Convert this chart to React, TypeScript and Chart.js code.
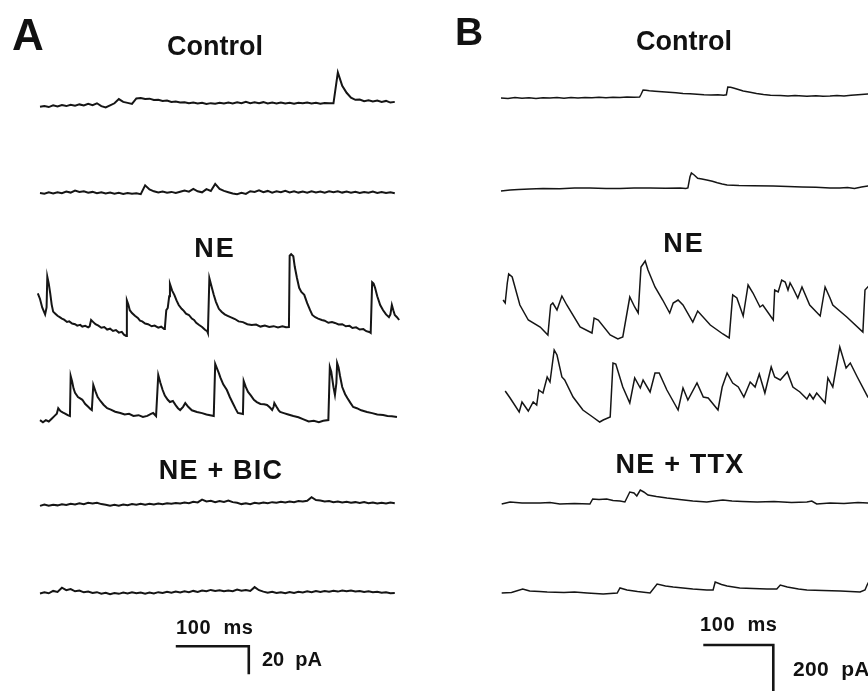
import { useEffect, useRef } from "react";
import { Chart, registerables } from "chart.js";

Chart.register(...registerables);

// ---------------- DATA ----------------
// Panel A: time in ms, current in pA (deflection from each trace's baseline)
const A_DT = 6; // sampling step (ms) of the uniformly sampled quiet traces

const A_CONTROL_1 = [
  -2, -1.5, -2.2, -1, -1.8, -0.8, -1.5, -0.5, -1.2, -0.3, -1, 0.2, -0.8, 0.5, -1.5, -2.5,
  -1, 0.5, 3.5, 1.5, 0.8, 0, 4, 4.3, 3.5, 3.8, 2.8, 3, 2.2, 2.5, 1.5, 1.8,
  1, 1.3, 0.5, 1, 0.3, 0.8, 0, 0.6, 0.2, 0.9, 0.3, 1, 0.4, 1.2, 0.5, 1.5,
  0.6, 1.2, 0.5, 1.3, 0.4, 1, 0.3, 1.1, 0.4, 0.8, 0.2, 0.9, 0.5, 1, 0.4, 0.8,
  0.2, 0.7, 0.5, 0.5, 22.5, 13, 8, 4.5, 3, 3.2, 2, 2.6, 1.8, 2.4, 1.5, 2.2,
  1, 1.5,
];

const A_CONTROL_2 = [
  0, -0.5, 0.5, -0.3, 0.6, -0.2, 1, 0.3, 1.8, 0.8, 1.2, 0.2, 0.8, -0.2, 0.5, -0.3,
  0.3, -0.5, 0.2, -0.6, 0, -0.5, -0.2, -0.8, 5.5, 2.5, 1.2, 0.4, 1, 0.2, 0.8, 0,
  0.9, 1.8, 1, 3, 1.2, 0.5, 2.8, 1.5, 6.5, 3, 1.5, 0.6, -0.3, -0.8, 0.2, -0.6,
  1.3, 0.8, 2, 0.6, 1.5, 0.3, 1.2, 0.5, 1.5, 0.4, 1.2, 0.3, 1, 0.2, 1.3, 0.4,
  1.1, 0.2, 1.2, 0.5, 1.3, 0.3, 1, 0.2, 0.9, 0.1, 0.8, 0.2, 1, 0.1, 0.7, 0,
  0.5, -0.2,
];

const A_NE_1: [number, number][] = [
  [-3, 24], [0, 20], [3, 14], [7, 9], [9, 14], [10, 36], [12, 31], [14, 24], [16, 16], [18, 11],
  [21, 9.5], [24, 8], [27, 7], [30, 6], [33, 5.2], [37, 3.6], [40, 4], [44, 2.5], [48, 2], [51, 1],
  [55, 1.5], [58, 0.3], [62, 0.8], [66, -0.2], [68, 0.5], [70, 5], [73, 3.5], [76, 2], [80, 1], [84, -0.5],
  [88, 0], [92, -1.8], [96, -1.2], [100, -2.8], [104, -2.2], [108, -4], [112, -3.5], [115, -5.5], [118, -6.4], [119, 19],
  [121, 16], [123, 12], [126, 10], [130, 8], [134, 6.5], [137, 4.5], [140, 4], [144, 2.5], [148, 2], [153, 0.5],
  [157, 1], [162, -0.5], [166, 0.2], [170, -1.4], [171, -1], [173, 12], [175, 13.6], [177, 22], [178, 30.7], [181, 26],
  [184, 23], [187, 19], [190, 15.7], [194, 13], [197, 11.5], [200, 9.5], [204, 8.6], [208, 6], [211, 5], [214, 3],
  [218, 1.4], [222, 0], [226, -2], [229, -3], [230, -4.3], [232, 35], [235, 29], [238, 23], [241, 18], [245, 13],
  [249, 10.7], [253, 9], [257, 8], [261, 7], [267, 5.7], [272, 4], [278, 3.5], [284, 2], [290, 1.4], [296, 1.8],
  [302, 0.3], [308, 1], [314, 0], [320, 0.6], [326, -0.3], [332, 0.5], [337, -0.2], [341, 0], [342, 51], [344, 52],
  [347, 50.5], [349, 43], [352, 35], [355, 28], [358, 25], [362, 23], [366, 17], [370, 12], [373, 8.6], [377, 7],
  [381, 6], [386, 5], [390, 4.5], [395, 3], [400, 3.5], [404, 2.9], [409, 1.8], [414, 2], [419, 0.5], [424, 0.8],
  [428, -0.7], [433, -0.2], [438, -1.8], [443, -1.5], [447, -3], [451, -3.6], [453, -4.3], [455, 32], [457, 31], [459, 28],
  [462, 22], [466, 15.7], [470, 12], [474, 9], [478, 7], [480, 9], [482, 15.7], [484, 12], [486, 8.6], [489, 7],
  [492, 5],
];

const A_NE_2: [number, number][] = [
  [0, -1.5], [4, -3], [8, -1.5], [12, -2.5], [16, -0.5], [20, 1.5], [23, 3], [25, 7], [28, 5], [31, 4],
  [35, 3], [38, 2], [41, 1.4], [42, 30], [44, 26], [46, 21], [48, 18], [52, 15], [55, 14], [58, 13],
  [62, 10], [66, 8], [69, 6.5], [71, 5.7], [73, 23.6], [76, 19], [79, 15], [83, 12], [87, 9.5], [92, 7],
  [97, 6], [103, 4.5], [110, 3.6], [116, 2.5], [122, 3], [128, 1.5], [135, 2], [141, 0.7], [147, 1.5], [152, 3],
  [155, 3.6], [159, 1.4], [162, 30.7], [165, 25], [168, 20], [171, 16], [175, 13], [178, 11.4], [182, 12.1], [186, 9],
  [189, 7], [192, 5.7], [196, 8], [199, 10.7], [203, 8], [208, 5.5], [215, 4.3], [222, 3.5], [228, 2.5], [233, 2],
  [238, 1.4], [240, 38.6], [242, 36], [245, 32], [247, 29], [251, 24], [256, 20], [260, 15], [264, 10.7], [268, 6.5],
  [271, 3.6], [275, 3.2], [278, 2.9], [279, 26.4], [282, 22], [285, 18.6], [289, 16], [293, 13], [297, 11.4], [302, 10],
  [307, 9.8], [311, 9.3], [315, 7.5], [318, 5.7], [320, 8], [321, 10.7], [324, 8], [327, 5.5], [329, 4.3], [334, 3.5],
  [340, 2.5], [347, 1.4], [354, 0.5], [361, -1], [368, -2.5], [375, -2], [382, -3], [388, -2], [395, -1.5], [397, 36.4],
  [399, 33], [402, 22], [404, 16.4], [406, 25], [407, 39.3], [409, 36], [411, 30], [414, 22.1], [418, 17], [421, 14.3],
  [425, 11], [429, 7.9], [434, 7], [440, 5.5], [448, 4.3], [455, 3.5], [462, 2.5], [470, 2.1], [476, 1.5], [482, 1.2],
  [489, 0.7],
];

const A_BIC_1 = [
  -0.7, 0.3, -0.5, 0.2, -0.3, 0.5, 0, 0.8, 0.3, 1.2, 0.5, 1.5, 1, 1.6, 0.6, 0.2,
  -0.5, 0.1, -0.6, 0.3, -0.2, 0.6, 0.1, 0.8, 0.2, 0.9, 0.4, 1, 0.5, 1.2, 0.8, 1.4,
  1, 1.8, 1.3, 2.2, 1.8, 3.8, 2.5, 3, 2, 2.8, 2.2, 3.2, 2, 1.5, 0.6, 1.2,
  0.5, 1.5, 1, 1.8, 1.3, 2, 1.6, 2.2, 1.7, 2.5, 2, 2.8, 2.4, 3, 5.5, 3.5,
  3.2, 2.5, 2.8, 2, 2.5, 1.8, 2.2, 1.5, 2, 1.4, 2, 1.2, 1.8, 1, 1.6, 1.1,
  1.7, 1.2,
];

const A_BIC_2 = [
  -0.3, 0.5, -0.2, 1.5, 0.8, 3.8, 2, 2.8, 1.2, 1.8, 0.5, 1, 0, 0.6, -0.5, 0.2,
  -0.8, 0, -0.6, 0.3, -0.4, 0.5, -0.2, 0.4, -0.5, 0.3, -0.3, 0.6, 0, 0.8, 0.2, 1,
  0.4, 1.2, 0.6, 1.5, 0.8, 1.8, 1.2, 2.2, 1.5, 2, 1.2, 1.8, 1.3, 2.4, 1.6, 2.2,
  1.5, 4.2, 2, 1, 0.2, 0.8, 0, 0.6, -0.2, 0.7, 0.1, 0.9, 0.4, 1.2, 0.6, 1.4,
  0.8, 1.5, 0.9, 1.6, 1, 1.8, 1.2, 1.7, 1, 1.5, 0.8, 1.2, 0.5, 0.9, 0.2, 0.6,
  -0.1, 0,
];

// Panel B: time in ms, current in pA
const B_CONTROL_1: [number, number][] = [
  [0, 0], [10, -2], [20, 2], [30, -1], [40, 1], [50, -2], [60, 1], [70, 0], [80, 2], [90, -1],
  [100, 2], [110, 0], [120, 2], [130, 1], [140, 3], [150, 1], [160, 3], [170, 2], [180, 4], [190, 3],
  [198, 4], [200, 14], [203, 32], [207, 31], [212, 29], [220, 27], [230, 25], [240, 23], [250, 21], [260, 18],
  [270, 17], [280, 15], [290, 13], [300, 12], [310, 13], [318, 11], [322, 13], [324, 44], [328, 43], [332, 40],
  [338, 35], [346, 28], [356, 23], [365, 18], [375, 14], [385, 11], [399, 10], [410, 8], [420, 10], [437, 7],
  [450, 9], [460, 7], [470, 8], [480, 10], [490, 8], [500, 11], [510, 13], [524, 16], [540, 14],
];

const B_CONTROL_2: [number, number][] = [
  [0, -12], [13, -8], [25, -6], [41, -4], [60, -2], [84, -3], [105, 0], [127, 0], [150, -2], [170, -2],
  [190, 0], [213, 0], [235, -1], [256, 0], [264, -2], [267, 0], [270, 45], [272, 60], [276, 52], [281, 39],
  [287, 36], [294, 32], [302, 27], [309, 21], [316, 16], [323, 12], [340, 10], [360, 9], [389, 8], [410, 6],
  [430, 4], [450, 3], [470, 0], [484, 0], [495, 2], [505, -2], [515, 4], [524, 8], [540, 6],
];

const B_NE_1: [number, number][] = [
  [3, 120], [6, 108], [9, 188], [11, 224], [16, 212], [27, 100], [39, 40], [56, 12], [67, -20], [71, 100],
  [74, 108], [80, 80], [87, 136], [94, 100], [113, 12], [130, -12], [133, 48], [139, 40], [156, -20], [167, -36],
  [174, -28], [184, 132], [191, 92], [196, 68], [200, 252], [206, 276], [210, 240], [220, 172], [231, 120], [241, 68],
  [246, 108], [253, 120], [260, 100], [274, 32], [281, 76], [299, 20], [317, -16], [326, -32], [331, 140], [337, 128],
  [346, 56], [353, 180], [360, 148], [370, 92], [374, 100], [389, 40], [391, 160], [396, 152], [401, 200], [406, 192],
  [410, 160], [413, 188], [417, 168], [424, 128], [430, 172], [441, 100], [456, 56], [463, 172], [470, 128], [474, 100],
  [494, 52], [517, -8], [520, 160], [524, 172], [527, 180],
];

const B_NE_2: [number, number][] = [
  [6, 76], [13, 48], [26, -8], [30, 32], [39, -4], [46, 32], [51, 20], [54, 80], [60, 68], [66, 132],
  [70, 112], [76, 240], [80, 220], [87, 132], [91, 120], [103, 52], [117, 0], [131, -28], [141, -48], [146, -40],
  [156, -28], [160, 188], [164, 184], [174, 92], [184, 28], [191, 128], [199, 88], [203, 120], [213, 72], [220, 148],
  [226, 148], [237, 80], [253, 0], [260, 88], [267, 40], [280, 108], [289, 52], [296, 48], [310, 0], [316, 92],
  [323, 148], [331, 108], [339, 92], [347, 52], [356, 112], [363, 92], [369, 144], [377, 68], [386, 172], [391, 132],
  [399, 120], [409, 152], [417, 92], [427, 72], [437, 44], [441, 64], [446, 44], [451, 68], [463, 28], [467, 128],
  [474, 92], [484, 252], [493, 168], [499, 188], [509, 132], [524, 52], [530, 40],
];

const B_TTX_1: [number, number][] = [
  [1, -4], [13, 4], [30, 0], [56, 0], [70, 2], [84, -4], [105, -2], [127, -4], [131, 16], [140, 14],
  [151, 16], [160, 10], [170, 8], [177, 4], [184, 44], [190, 40], [194, 28], [199, 52], [204, 44], [210, 32],
  [222, 26], [237, 20], [255, 14], [274, 8], [294, 4], [305, 8], [317, 12], [330, 8], [345, 6], [366, 4],
  [390, 6], [415, 2], [437, 4], [444, 8], [451, -4], [470, 0], [490, -2], [510, 2], [524, 0], [540, 2],
];

const B_TTX_2: [number, number][] = [
  [1, -4], [15, -2], [31, 12], [36, 8], [41, 4], [55, 2], [66, 0], [90, -2], [105, 0], [123, -4],
  [146, -8], [166, -4], [170, 16], [180, 8], [195, 2], [213, -4], [223, 32], [235, 24], [246, 20], [260, 16],
  [274, 12], [294, 8], [303, 8], [306, 40], [315, 30], [323, 24], [341, 16], [360, 14], [380, 12], [394, 12],
  [399, 28], [409, 20], [425, 12], [437, 8], [460, 6], [485, 4], [513, 0], [520, 8], [523, 28], [527, 48],
];

// scale bars
const A_BAR = { ms: 100, pA: 20 };
const B_BAR = { ms: 100, pA: 200 };

// ---------------- LAYOUT (not data) ----------------
const W = 868;
const H = 691;
// Panel A: 0.73 px per ms, 1.4 px per pA ; Panel B: 0.70 px per ms, 0.25 px per pA
const A_X = { min: -54.8, max: -54.8 + W / 0.73 };
const A_Y = { min: 0, max: H / 1.4 };
const B_X = { min: -715.7, max: -715.7 + W / 0.7 };
const B_Y = { min: 0, max: H / 0.25 };
const A_ROW = [419.3, 355.7, 260, 195, 132.9, 70];
const B_ROW = [2372, 2012, 1444, 1124, 752, 396];
const A_BAR_POS = { t: 186, y: 32 };
const B_BAR_POS = { t: 289, y: 184 };

const FONT = "'Liberation Sans', Arial, Helvetica, sans-serif";
const LABELS = [
  { text: "A", x: 12, y: 50, size: 44, align: "left", ls: 0 },
  { text: "B", x: 455, y: 45, size: 39, align: "left", ls: 0 },
  { text: "Control", x: 215, y: 55, size: 27, align: "center", ls: 0 },
  { text: "Control", x: 684, y: 50, size: 27, align: "center", ls: 0 },
  { text: "NE", x: 215, y: 257, size: 27, align: "center", ls: 2 },
  { text: "NE", x: 684, y: 252, size: 27, align: "center", ls: 2 },
  { text: "NE + BIC", x: 221, y: 479, size: 27, align: "center", ls: 1.2 },
  { text: "NE + TTX", x: 680, y: 473, size: 27, align: "center", ls: 1.2 },
  { text: "100  ms", x: 176, y: 634, size: 20, align: "left", ls: 0.6 },
  { text: "20  pA", x: 262, y: 666, size: 20, align: "left", ls: 0 },
  { text: "100  ms", x: 700, y: 631, size: 20, align: "left", ls: 0.6 },
  { text: "200  pA", x: 793, y: 676, size: 21, align: "left", ls: 0.3 },
];

export default function App() {
  const ref = useRef<HTMLCanvasElement | null>(null);

  useEffect(() => {
    document.body.style.margin = "0";
    const canvas = ref.current;
    if (!canvas) return;

    const uni = (arr: number[], off: number) => arr.map((v, i) => ({ x: i * A_DT, y: v + off }));
    const pairs = (arr: [number, number][], off: number) => arr.map(([t, v]) => ({ x: t, y: v + off }));

    const traceA = (data: { x: number; y: number }[]) => ({
      data,
      xAxisID: "xA",
      yAxisID: "yA",
      borderColor: "#151515",
      borderWidth: 2,
      pointRadius: 0,
      tension: 0,
      fill: false,
    });
    const traceB = (data: { x: number; y: number }[]) => ({
      data,
      xAxisID: "xB",
      yAxisID: "yB",
      borderColor: "#151515",
      borderWidth: 1.5,
      pointRadius: 0,
      tension: 0,
      fill: false,
    });

    const barA = [
      { x: A_BAR_POS.t, y: A_BAR_POS.y },
      { x: A_BAR_POS.t + A_BAR.ms, y: A_BAR_POS.y },
      { x: A_BAR_POS.t + A_BAR.ms, y: A_BAR_POS.y - A_BAR.pA },
    ];
    const barB = [
      { x: B_BAR_POS.t, y: B_BAR_POS.y },
      { x: B_BAR_POS.t + B_BAR.ms, y: B_BAR_POS.y },
      { x: B_BAR_POS.t + B_BAR.ms, y: B_BAR_POS.y - B_BAR.pA },
    ];

    const datasets: any[] = [
      traceA(uni(A_CONTROL_1, A_ROW[0])),
      traceA(uni(A_CONTROL_2, A_ROW[1])),
      traceA(pairs(A_NE_1, A_ROW[2])),
      traceA(pairs(A_NE_2, A_ROW[3])),
      traceA(uni(A_BIC_1, A_ROW[4])),
      traceA(uni(A_BIC_2, A_ROW[5])),
      traceB(pairs(B_CONTROL_1, B_ROW[0])),
      traceB(pairs(B_CONTROL_2, B_ROW[1])),
      traceB(pairs(B_NE_1, B_ROW[2])),
      traceB(pairs(B_NE_2, B_ROW[3])),
      traceB(pairs(B_TTX_1, B_ROW[4])),
      traceB(pairs(B_TTX_2, B_ROW[5])),
      { ...traceA(barA), borderWidth: 2.6, borderJoinStyle: "miter" },
      { ...traceB(barB), borderWidth: 2.6, borderJoinStyle: "miter" },
    ];

    const textPlugin = {
      id: "figText",
      afterDraw(chart: any) {
        const ctx = chart.ctx as CanvasRenderingContext2D;
        ctx.save();
        ctx.fillStyle = "#111";
        ctx.textBaseline = "alphabetic";
        for (const l of LABELS) {
          ctx.font = `bold ${l.size}px ${FONT}`;
          (ctx as any).letterSpacing = `${l.ls}px`;
          ctx.textAlign = l.align as CanvasTextAlign;
          ctx.fillText(l.text, l.x, l.y);
        }
        ctx.restore();
      },
    };

    const chart = new Chart(canvas, {
      type: "line",
      data: { datasets },
      options: {
        animation: false,
        responsive: false,
        maintainAspectRatio: false,
        devicePixelRatio: 1,
        layout: { padding: 0 },
        events: [],
        plugins: { legend: { display: false }, tooltip: { enabled: false } },
        scales: {
          xA: { type: "linear", display: false, min: A_X.min, max: A_X.max },
          yA: { type: "linear", display: false, min: A_Y.min, max: A_Y.max },
          xB: { type: "linear", display: false, min: B_X.min, max: B_X.max },
          yB: { type: "linear", display: false, min: B_Y.min, max: B_Y.max },
        },
      } as any,
      plugins: [textPlugin],
    });

    return () => chart.destroy();
  }, []);

  return (
    <div
      style={{
        position: "fixed",
        left: 0,
        top: 0,
        width: W,
        height: H,
        background: "#fff",
        overflow: "hidden",
      }}
    >
      <canvas ref={ref} width={W} height={H} style={{ display: "block", width: W, height: H }} />
    </div>
  );
}
